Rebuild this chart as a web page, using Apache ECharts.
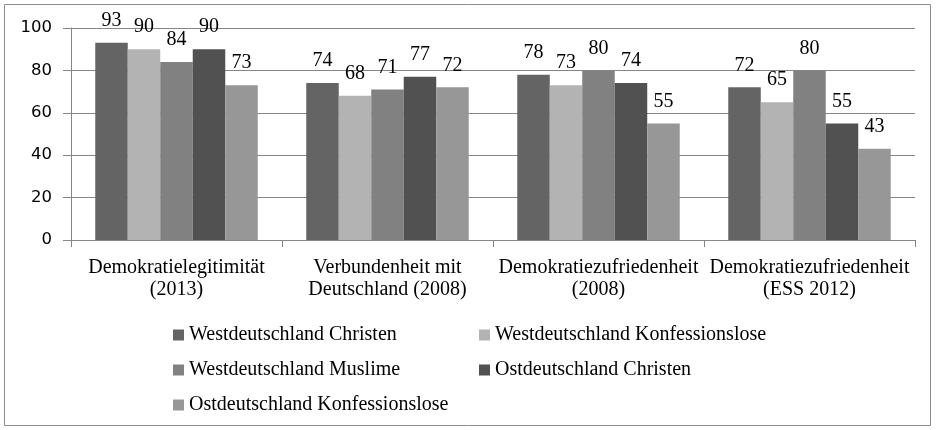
<!DOCTYPE html>
<html>
<head>
<meta charset="utf-8">
<script src="https://cdn.jsdelivr.net/npm/echarts@6/dist/echarts.min.js"></script>
<style>
  html, body { margin: 0; padding: 0; background: #fff; }
  #main { width: 936px; height: 430px; }
</style>
</head>
<body>
<div id="main"></div>
<script>
var categories = [
  'Demokratielegitimität\n(2013)',
  'Verbundenheit mit\nDeutschland (2008)',
  'Demokratiezufriedenheit\n(2008)',
  'Demokratiezufriedenheit\n(ESS 2012)'
]
var seriesNames = [
  'Westdeutschland Christen',
  'Westdeutschland Konfessionslose',
  'Westdeutschland Muslime',
  'Ostdeutschland Christen',
  'Ostdeutschland Konfessionslose'
]
var westChristen = [93, 74, 78, 72]
var westKonfessionslos = [90, 68, 73, 65]
var westMuslime = [84, 71, 80, 80]
var ostChristen = [90, 77, 74, 55]
var ostKonfessionslos = [73, 72, 55, 43]
var yTicks = [0, 20, 40, 60, 80, 100]

var colors = ['#646464', '#b3b3b3', '#818181', '#515151', '#979797']
var values = [westChristen, westKonfessionslos, westMuslime, ostChristen, ostKonfessionslos]

var chartDom = document.getElementById('main')
var myChart = echarts.init(chartDom)
var serif = '"Liberation Serif", "Times New Roman", serif'

var legendBase = {
  orient: 'vertical',
  top: 320,
  itemGap: 15,
  itemWidth: 11,
  itemHeight: 11,
  icon: 'rect',
  textStyle: { fontFamily: serif, fontSize: 20, color: '#000' }
}

var option = {
  animation: false,
  graphic: [
    {
      type: 'rect',
      shape: { x: 4.5, y: 4.5, width: 926, height: 421 },
      style: { fill: 'none', stroke: '#8c8c8c', lineWidth: 1 }
    }
  ],
  grid: { left: 71, right: 21, top: 28, bottom: 190 },
  legend: [
    Object.assign({}, legendBase, { left: 168, data: [seriesNames[0], seriesNames[2], seriesNames[4]] }),
    Object.assign({}, legendBase, { left: 474, data: [seriesNames[1], seriesNames[3]] })
  ],
  xAxis: {
    type: 'category',
    data: categories,
    axisLine: { lineStyle: { color: '#868686' } },
    axisTick: { show: true, length: 7, lineStyle: { color: '#868686' } },
    axisLabel: {
      fontFamily: serif,
      fontSize: 20,
      color: '#000',
      lineHeight: 22,
      margin: 17,
      interval: 0
    }
  },
  yAxis: {
    type: 'value',
    min: 0,
    max: 100,
    interval: 20,
    axisLine: { show: true, lineStyle: { color: '#868686' } },
    axisTick: { show: true, length: 8, lineStyle: { color: '#868686' } },
    splitLine: { lineStyle: { color: '#868686' } },
    axisLabel: {
      fontFamily: '"DejaVu Sans", sans-serif',
      fontSize: 16.5,
      color: '#000',
      margin: 19,
      formatter: function (v) { return yTicks.indexOf(v) >= 0 ? String(v) : '' }
    }
  },
  series: seriesNames.map(function (name, i) {
    return {
      name: name,
      type: 'bar',
      data: values[i],
      barGap: '0%',
      barCategoryGap: '23%',
      itemStyle: { color: colors[i] },
      label: {
        show: true,
        position: 'top',
        distance: 12,
        fontFamily: serif,
        fontSize: 20,
        color: '#000'
      }
    }
  })
}

option && myChart.setOption(option)
</script>
</body>
</html>
